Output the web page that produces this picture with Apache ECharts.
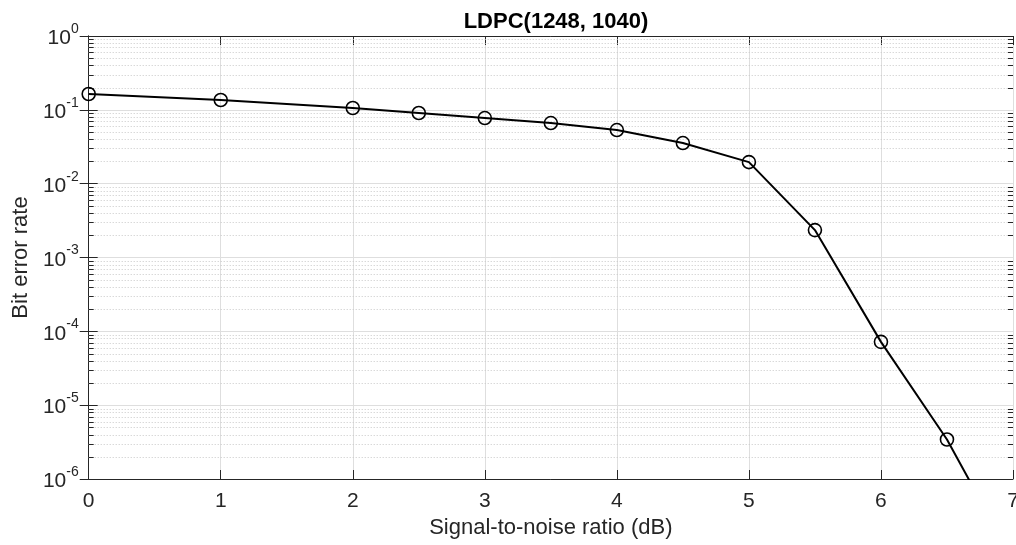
<!DOCTYPE html>
<html>
<head>
<meta charset="utf-8">
<script src="https://cdn.jsdelivr.net/npm/echarts@6/dist/echarts.min.js"></script>
<style>
html,body{margin:0;padding:0;background:#fff;}
#chart{width:1016px;height:545px;}
</style>
</head>
<body>
<div id="chart"></div>
<script>
// ---- data ----
const snrDb = [0, 1, 2, 2.5, 3, 3.5, 4, 4.5, 5, 5.5, 6, 6.5, 7];
const ber = [0.164, 0.136, 0.106, 0.0905, 0.0774, 0.0662, 0.0532, 0.0355, 0.0196, 0.00235, 7.2e-5, 3.43e-6, 8e-8];
const xTicks = [0, 1, 2, 3, 4, 5, 6, 7];
const yDecades = [-6, -5, -4, -3, -2, -1, 0];
const minorMultipliers = [2, 3, 4, 5, 6, 7, 8, 9];
const titleText = 'LDPC(1248, 1040)';
const xLabel = 'Signal-to-noise ratio (dB)';
const yLabel = 'Bit error rate';

// minor grid values (tick positions)
const minorVals = [];
yDecades.slice(0, -1).forEach(function (e) {
  minorMultipliers.forEach(function (m) { minorVals.push(m * Math.pow(10, e)); });
});

const axisColor = '#262626';
const font = 'Liberation Sans, Arial, Helvetica, sans-serif';

const chart = echarts.init(document.getElementById('chart'), null, {renderer: 'canvas'});

function xAxisCfg(pos, showLabel) {
  return {
    type: 'value', position: pos, min: xTicks[0], max: xTicks[xTicks.length - 1], interval: 1,
    name: showLabel ? xLabel : '', nameLocation: 'middle', nameGap: 38,
    nameTextStyle: {fontFamily: font, fontSize: 22, color: axisColor},
    axisLine: {show: true, onZero: false, lineStyle: {color: axisColor, width: 1}},
    axisTick: {show: true, inside: true, length: 9, lineStyle: {color: axisColor, width: 1}},
    axisLabel: {show: showLabel, fontFamily: font, fontSize: 21, color: axisColor, margin: 12},
    splitLine: {show: showLabel, lineStyle: {color: '#dedede', width: 1}}
  };
}
function yAxisCfg(pos, showLabel) {
  return {
    type: 'log', logBase: 10, position: pos, min: Math.pow(10, yDecades[0]), max: Math.pow(10, yDecades[yDecades.length - 1]),
    name: showLabel ? yLabel : '', nameLocation: 'middle', nameGap: 55, nameRotate: 90,
    nameTextStyle: {fontFamily: font, fontSize: 22, color: axisColor},
    axisLine: {show: true, lineStyle: {color: axisColor, width: 1}},
    axisTick: {show: true, inside: true, length: 9, lineStyle: {color: axisColor, width: 1}},
    axisLabel: {
      show: showLabel, margin: 10, color: axisColor,
      formatter: function (v) {
        const e = Math.round(Math.log10(v));
        return '{b|10}{s|' + e + '}';
      },
      rich: {
        b: {fontFamily: font, fontSize: 21, color: axisColor, verticalAlign: 'bottom', lineHeight: 26},
        s: {fontFamily: font, fontSize: 14, color: axisColor, verticalAlign: 'bottom', lineHeight: 26, padding: [0, 0, 13, 0]}
      }
    },
    splitLine: {show: showLabel, lineStyle: {color: '#dedede', width: 1}}
  };
}

chart.setOption({
  backgroundColor: '#fff',
  animation: false,
  title: {
    text: titleText, top: 6,
    left: 551, textAlign: 'center',
    textStyle: {fontFamily: font, fontSize: 22, fontWeight: 'bold', color: '#000'}
  },
  grid: {left: 88.7, right: 3, top: 36, bottom: 66, containLabel: false, outerBoundsMode: 'none'},
  xAxis: [xAxisCfg('bottom', true), xAxisCfg('top', false)],
  yAxis: [yAxisCfg('left', true), yAxisCfg('right', false)],
  series: [
    {
      type: 'custom',
      xAxisIndex: 0, yAxisIndex: 0,
      data: minorVals.map(function (v) { return [xTicks[0], v]; }),
      silent: true, z: 1,
      renderItem: function (params, api) {
        const p = api.coord([xTicks[0], api.value(1)]);
        const q = api.coord([xTicks[xTicks.length - 1], api.value(1)]);
        const y = Math.round(p[1]) + 0.5;
        return {
          type: 'group',
          children: [
            {type: 'line', shape: {x1: p[0], y1: y, x2: q[0], y2: y},
             style: {stroke: '#c8c8c8', lineWidth: 1, lineDash: [1, 2]}},
            {type: 'line', shape: {x1: p[0], y1: y, x2: p[0] + 5, y2: y},
             style: {stroke: axisColor, lineWidth: 1}},
            {type: 'line', shape: {x1: q[0] - 5, y1: y, x2: q[0], y2: y},
             style: {stroke: axisColor, lineWidth: 1}}
          ]
        };
      }
    },
    {
      type: 'line',
      xAxisIndex: 0, yAxisIndex: 0,
      data: snrDb.map(function (x, i) { return [x, ber[i]]; }),
      clip: true, z: 5,
      symbol: 'circle', symbolSize: 13,
      showAllSymbol: true,
      lineStyle: {color: '#000', width: 2},
      itemStyle: {color: 'rgba(0,0,0,0)', borderColor: '#000', borderWidth: 1.6}
    }
  ]
});
</script>
</body>
</html>
